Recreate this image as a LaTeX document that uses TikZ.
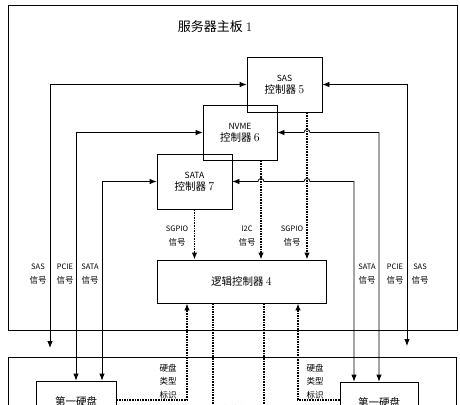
\documentclass[tikz,border=0pt]{standalone}
\usepackage{fontspec}
\newfontfamily\cjk{Noto Sans CJK SC}
\usetikzlibrary{arrows.meta}
\newcommand{\latn}[1]{{\fontsize{7.5}{15}\selectfont #1}}

\begin{document}
\begin{tikzpicture}[x=1pt,y=-1pt,>={Latex[length=7pt,width=5.5pt]}]
  \tikzstyle{ctrl}=[draw,line width=0.8pt,align=center,inner sep=0pt]
  \tikzstyle{sig}=[align=center,font=\cjk\fontsize{8.5}{14.5}\selectfont,inner sep=0pt]
  \tikzstyle{wire}=[line width=0.8pt]
  \tikzstyle{ctl}=[line width=1.7pt,dash pattern=on 1.6pt off 1pt]

  \useasboundingbox (0,0) rectangle (460,404);

  \draw[line width=1pt] (8,6) rectangle (457,330);
  \draw[line width=1pt] (8,357) rectangle (456,470);

  \node (title) at (215,27) {\cjk\fontsize{13}{15}\selectfont 服务器主板\ \rmfamily 1};

  \node[ctrl,minimum width=75,minimum height=55] (sas) at (284.5,84.5)
    {\cjk\fontsize{8.5}{16}\selectfont SAS\\\cjk\fontsize{10.5}{16}\selectfont 控制器 \rmfamily\fontsize{12}{16}\selectfont 5};
  \node[ctrl,minimum width=74,minimum height=55] (nvme) at (240,132.5)
    {\cjk\fontsize{8.5}{16}\selectfont NVME\\\cjk\fontsize{10.5}{16}\selectfont 控制器 \rmfamily\fontsize{12}{16}\selectfont 6};
  \node[ctrl,minimum width=75,minimum height=55] (sata) at (194.5,181.5)
    {\cjk\fontsize{8.5}{16}\selectfont SATA\\\cjk\fontsize{10.5}{16}\selectfont 控制器 \rmfamily\fontsize{12}{16}\selectfont 7};
  \node[ctrl,minimum width=169,minimum height=43] (logic) at (241.5,281.5)
    {\cjk\fontsize{10.5}{14}\selectfont 逻辑控制器 \rmfamily\fontsize{12}{14}\selectfont 4};

  \node[ctrl,minimum width=80,minimum height=40] (hdd1) at (76,401)
    {\cjk\fontsize{10.5}{14}\selectfont 第一硬盘};
  \node[ctrl,minimum width=78,minimum height=40] (hdd2) at (379,402)
    {\cjk\fontsize{10.5}{14}\selectfont 第一硬盘};

  \coordinate (sasl) at (50,348);
  \coordinate (sasr) at (407,346);

  % left side signals
  \draw[wire,<->] (sas.west) -| (sasl);
  \draw[wire,<->] (nvme.west) -| (hdd1.north);
  \draw[wire,<->] (sata.west) -| ([xshift=26pt]hdd1.north);

  % right side signals
  \draw[wire,<->] (sas.east) -| (sasr);
  \draw[wire,<->] (nvme.east) -- (304,132.5) arc[start angle=180,end angle=360,radius=3]
    -| (hdd2.north);
  \draw[wire,<->] (sata.east) -- (258,181.5) arc[start angle=180,end angle=360,radius=3]
    -- (304,181.5) arc[start angle=180,end angle=360,radius=3]
    -| ([xshift=-25pt]hdd2.north);

  % control signals
  \draw[ctl,->] (sata.south) -- (sata.south |- logic.north);
  \draw[ctl,->] ([xshift=21pt]nvme.south) -- ([xshift=21pt]nvme.south |- logic.north);
  \draw[ctl,->] ([xshift=22.5pt]sas.south) -- ([xshift=22.5pt]sas.south |- logic.north);

  \draw[ctl,->] (hdd1.east |- 0,400) -| ([xshift=-54.5pt]logic.south);
  \draw[ctl,->] (hdd2.west |- 0,400) -| ([xshift=56.5pt]logic.south);
  \draw[ctl] ([xshift=-28.5pt]logic.south) -- ++(0,130);
  \draw[ctl] ([xshift=22.5pt]logic.south) -- ++(0,130);

  \node[sig] (l1) at (38,274) {\latn{SAS}\\信号};
  \node[sig] (l2) at (65,274) {\latn{PCIE}\\信号};
  \node[sig] (l3) at (90,274) {\latn{SATA}\\信号};
  \node[sig] (r1) at (367,274) {\latn{SATA}\\信号};
  \node[sig] (r2) at (395,274) {\latn{PCIE}\\信号};
  \node[sig] (r3) at (420,274) {\latn{SAS}\\信号};

  \node[sig] (c1) at (177,236) {\latn{SGPIO}\\信号};
  \node[sig] (c2) at (247,236) {\latn{I2C}\\信号};
  \node[sig] (c3) at (292,236) {\latn{SGPIO}\\信号};

  \node[sig,font=\cjk\fontsize{8.5}{13.5}\selectfont] (t1) at (168,381.5) {硬盘\\类型\\标识};
  \node[sig,font=\cjk\fontsize{8.5}{13.5}\selectfont] (t2) at (315,381.5) {硬盘\\类型\\标识};
  \node[sig] (p1) at (239,409) {在位信号};
\end{tikzpicture}
\end{document}
